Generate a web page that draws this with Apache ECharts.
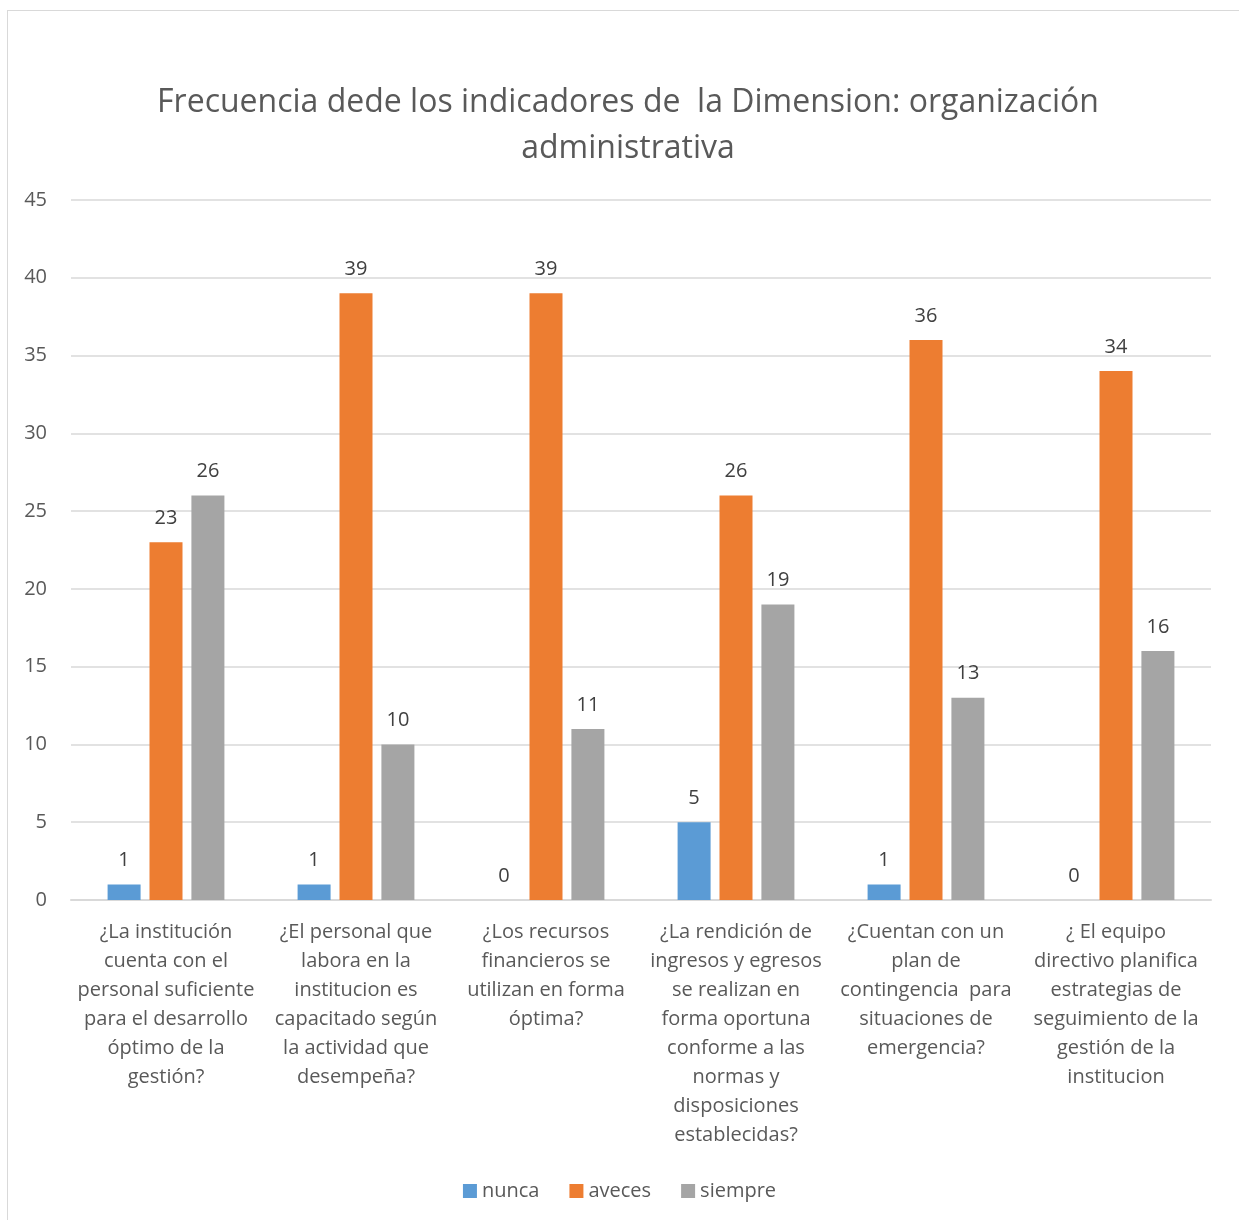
<!DOCTYPE html>
<html>
<head>
<meta charset="utf-8">
<script src="https://cdn.jsdelivr.net/npm/echarts@6/dist/echarts.min.js"></script>
<style>
  html, body { margin: 0; padding: 0; background: #fff; }
  .frame { position: absolute; left: 7px; top: 10px; width: 1250px; height: 1250px; border: 1px solid #d9d9d9; }
  #chart { position: absolute; left: 0; top: 0; width: 1239px; height: 1220px; }
</style>
</head>
<body>
<div class="frame"></div>
<div id="chart"></div>
<script>
const categories = [
  '¿La institución\ncuenta con el\npersonal suficiente\npara el desarrollo\nóptimo de la\ngestión?',
  '¿El personal que\nlabora en la\ninstitucion es\ncapacitado según\nla actividad que\ndesempeña?',
  '¿Los recursos\nfinancieros se\nutilizan en forma\nóptima?',
  '¿La rendición de\ningresos y egresos\nse realizan en\nforma oportuna\nconforme a las\nnormas y\ndisposiciones\nestablecidas?',
  '¿Cuentan con un\nplan de\ncontingencia  para\nsituaciones de\nemergencia?',
  '¿ El equipo\ndirectivo planifica\nestrategias de\nseguimiento de la\ngestión de la\ninstitucion'
]
const nunca = [1, 1, 0, 5, 1, 0]
const aveces = [23, 39, 39, 26, 36, 34]
const siempre = [26, 10, 11, 19, 13, 16]
const yTicks = [0, 5, 10, 15, 20, 25, 30, 35, 40, 45]

const font = '"Open Sans", "Noto Sans", sans-serif'
const chart = echarts.init(document.getElementById('chart'))

function barSeries (name, data, color) {
  return {
    name: name,
    type: 'bar',
    data: data,
    barWidth: 33,
    barGap: '27%',
    itemStyle: { color: color },
    label: {
      show: true,
      position: 'top',
      distance: 14,
      color: '#404040',
      fontSize: 20,
      fontFamily: font
    }
  }
}

chart.setOption({
  animation: false,
  textStyle: { fontFamily: font },
  title: {
    text: 'Frecuencia dede los indicadores de  la Dimension: organización\nadministrativa',
    left: 623,
    top: 75,
    textAlign: 'center',
    textStyle: {
      fontSize: 32,
      fontWeight: 'normal',
      color: '#595959',
      lineHeight: 46,
      fontFamily: font
    }
  },
  legend: {
    bottom: 14,
    left: 'center',
    itemWidth: 14,
    itemHeight: 14,
    itemGap: 30,
    icon: 'rect',
    textStyle: { fontSize: 20, color: '#595959', fontFamily: font },
    data: ['nunca', 'aveces', 'siempre']
  },
  grid: { left: 71, right: 28, top: 200, bottom: 320 },
  xAxis: {
    type: 'category',
    data: categories,
    axisLine: { lineStyle: { color: '#d9d9d9', width: 2 } },
    axisTick: { show: false },
    axisLabel: {
      interval: 0,
      margin: 18,
      fontSize: 20,
      lineHeight: 29,
      color: '#595959',
      fontFamily: font
    }
  },
  yAxis: {
    type: 'value',
    min: yTicks[0],
    max: yTicks[yTicks.length - 1],
    interval: 5,
    axisLine: { show: false },
    axisTick: { show: false },
    splitLine: { lineStyle: { color: '#d9d9d9', width: 1.5 } },
    axisLabel: {
      margin: 24,
      fontSize: 20,
      color: '#595959',
      fontFamily: font
    }
  },
  series: [
    barSeries('nunca', nunca, '#5b9bd5'),
    barSeries('aveces', aveces, '#ed7d31'),
    barSeries('siempre', siempre, '#a5a5a5')
  ]
})
</script>
</body>
</html>
